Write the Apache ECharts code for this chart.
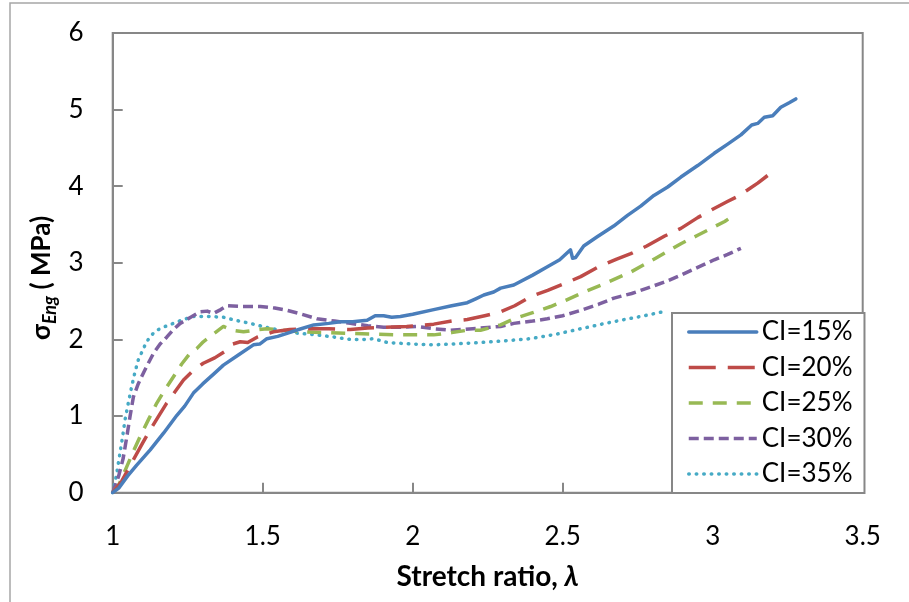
<!DOCTYPE html>
<html>
<head>
<meta charset="utf-8">
<script src="https://cdn.jsdelivr.net/npm/echarts@6/dist/echarts.min.js"></script>
<style>
  html, body { margin: 0; padding: 0; background: #fff; }
  #chart { width: 909px; height: 602px; }
</style>
</head>
<body>
<div id="chart"></div>
<script>
// Engineering stress vs. stretch ratio for five CI levels
const seriesNames = ['CI=15%', 'CI=20%', 'CI=25%', 'CI=30%', 'CI=35%'];
const xTicks = [1, 1.5, 2, 2.5, 3, 3.5];
const yTicks = [0, 1, 2, 3, 4, 5, 6];

const ci15 = [
  [1.0, 0], [1.02, 0.06], [1.05, 0.22], [1.08, 0.36], [1.125, 0.56], [1.17, 0.78],
  [1.214, 1.01], [1.24, 1.13], [1.269, 1.30], [1.30, 1.42], [1.34, 1.56], [1.369, 1.665],
  [1.42, 1.80], [1.469, 1.93], [1.49, 1.94], [1.514, 2.01], [1.55, 2.04], [1.581, 2.08],
  [1.62, 2.13], [1.67, 2.19], [1.72, 2.21], [1.759, 2.23], [1.80, 2.23], [1.848, 2.25],
  [1.875, 2.31], [1.903, 2.31], [1.93, 2.29], [1.959, 2.30], [2.00, 2.33], [2.07, 2.39],
  [2.13, 2.44], [2.182, 2.48], [2.21, 2.53], [2.237, 2.58], [2.27, 2.62], [2.293, 2.67],
  [2.337, 2.71], [2.40, 2.84], [2.449, 2.95], [2.49, 3.04], [2.526, 3.17], [2.533, 3.06],
  [2.543, 3.07], [2.57, 3.22], [2.615, 3.34], [2.67, 3.48], [2.716, 3.62], [2.76, 3.74],
  [2.804, 3.88], [2.85, 3.99], [2.894, 4.12], [2.95, 4.27], [3.005, 4.43], [3.05, 4.55],
  [3.094, 4.67], [3.13, 4.80], [3.15, 4.82], [3.172, 4.90], [3.20, 4.92], [3.227, 5.03],
  [3.255, 5.09], [3.277, 5.14]
];
const ci20 = [
  [1.0, 0], [1.03, 0.15], [1.069, 0.43], [1.10, 0.65], [1.125, 0.82], [1.15, 0.98],
  [1.18, 1.17], [1.21, 1.33], [1.236, 1.47], [1.27, 1.60], [1.302, 1.69], [1.34, 1.76],
  [1.38, 1.86], [1.40, 1.94], [1.425, 1.97], [1.45, 1.96], [1.481, 2.03], [1.536, 2.10],
  [1.59, 2.13], [1.648, 2.14], [1.72, 2.14], [1.792, 2.13], [1.85, 2.15], [1.903, 2.16],
  [1.98, 2.17], [2.07, 2.20], [2.13, 2.24], [2.182, 2.26], [2.24, 2.31], [2.293, 2.36],
  [2.34, 2.44], [2.393, 2.56], [2.45, 2.64], [2.50, 2.72], [2.56, 2.82], [2.62, 2.95],
  [2.68, 3.05], [2.727, 3.12], [2.78, 3.22], [2.84, 3.35], [2.894, 3.45], [2.95, 3.59],
  [3.00, 3.70], [3.049, 3.80], [3.08, 3.86], [3.116, 3.95], [3.15, 4.04], [3.183, 4.14]
];
const ci25 = [
  [1.0, 0], [1.02, 0.10], [1.047, 0.34], [1.07, 0.55], [1.091, 0.73], [1.12, 0.96],
  [1.147, 1.17], [1.175, 1.35], [1.202, 1.51], [1.23, 1.68], [1.258, 1.82], [1.28, 1.88],
  [1.302, 1.97], [1.335, 2.07], [1.369, 2.17], [1.40, 2.12], [1.436, 2.10], [1.47, 2.12],
  [1.514, 2.14], [1.57, 2.12], [1.625, 2.10], [1.70, 2.09], [1.792, 2.08], [1.88, 2.07],
  [1.959, 2.06], [2.07, 2.06], [2.13, 2.09], [2.182, 2.12], [2.226, 2.12], [2.293, 2.19],
  [2.337, 2.27], [2.40, 2.35], [2.46, 2.43], [2.51, 2.51], [2.56, 2.60], [2.64, 2.73],
  [2.727, 2.88], [2.81, 3.06], [2.894, 3.25], [2.95, 3.36], [3.005, 3.47], [3.04, 3.54],
  [3.071, 3.62]
];
const ci30 = [
  [1.0, 0], [1.02, 0.22], [1.035, 0.45], [1.047, 0.73], [1.058, 1.00], [1.069, 1.25],
  [1.085, 1.42], [1.102, 1.56], [1.12, 1.70], [1.136, 1.82], [1.158, 1.94], [1.18, 2.03],
  [1.20, 2.12], [1.225, 2.21], [1.26, 2.29], [1.291, 2.36], [1.315, 2.37], [1.336, 2.34],
  [1.36, 2.39], [1.38, 2.44], [1.43, 2.43], [1.492, 2.43], [1.54, 2.41], [1.581, 2.38],
  [1.63, 2.33], [1.681, 2.27], [1.74, 2.24], [1.792, 2.21], [1.85, 2.18], [1.903, 2.16],
  [1.96, 2.16], [2.015, 2.17], [2.07, 2.14], [2.126, 2.12], [2.20, 2.14], [2.293, 2.17],
  [2.337, 2.21], [2.40, 2.24], [2.449, 2.27], [2.50, 2.31], [2.56, 2.38], [2.62, 2.46],
  [2.671, 2.54], [2.73, 2.60], [2.782, 2.67], [2.84, 2.75], [2.894, 2.84], [2.95, 2.94],
  [3.005, 3.04], [3.05, 3.11], [3.094, 3.19]
];
const ci35 = [
  [1.0, 0], [1.012, 0.22], [1.024, 0.51], [1.033, 0.73], [1.041, 0.95], [1.052, 1.17],
  [1.063, 1.38], [1.074, 1.57], [1.085, 1.73], [1.10, 1.86], [1.113, 1.97], [1.13, 2.06],
  [1.147, 2.12], [1.175, 2.17], [1.202, 2.21], [1.235, 2.26], [1.269, 2.30], [1.32, 2.30],
  [1.369, 2.29], [1.41, 2.25], [1.458, 2.21], [1.51, 2.16], [1.569, 2.11], [1.62, 2.08],
  [1.681, 2.06], [1.74, 2.03], [1.792, 2.00], [1.835, 2.00], [1.87, 2.01], [1.915, 1.96],
  [2.00, 1.94], [2.07, 1.93], [2.13, 1.94], [2.182, 1.95], [2.226, 1.96], [2.30, 1.98],
  [2.393, 2.01], [2.48, 2.07], [2.56, 2.14], [2.63, 2.20], [2.693, 2.25], [2.76, 2.30],
  [2.832, 2.36]
];

const seriesData = [ci15, ci20, ci25, ci30, ci35];
const colors = ['#4a7ebb', '#be4b48', '#98b954', '#7d60a0', '#46aac5'];
const dashes = ['solid', [27, 12], [14, 10], [10, 5], [0.5, 7]];
const caps = ['round', 'butt', 'butt', 'butt', 'round'];

const FONT = 'Lato, "Open Sans", sans-serif';
const GRID = '#878787';

const chart = echarts.init(document.getElementById('chart'), null, { renderer: 'canvas' });

chart.setOption({
  animation: false,
  backgroundColor: '#fff',
  graphic: [
    {
      type: 'rect', silent: true, z: -1,
      shape: { x: 10, y: 3, width: 940, height: 640 },
      style: { fill: 'none', stroke: '#a6a6a6', lineWidth: 1.5 }
    },
    {
      type: 'text', silent: true,
      x: 42, y: 278, rotation: Math.PI / 2,
      style: {
        text: '{s|σ}{sub|Eng}{t| ( MPa)}',
        align: 'center', verticalAlign: 'middle',
        rich: {
          s: { fontFamily: FONT, fontWeight: 'bold', fontSize: 26, lineHeight: 34, fill: '#000' },
          sub: { fontFamily: FONT, fontWeight: 'bold', fontStyle: 'italic', fontSize: 18, lineHeight: 22, verticalAlign: 'bottom', fill: '#000' },
          t: { fontFamily: FONT, fontWeight: 'bold', fontSize: 26, lineHeight: 34, fill: '#000' }
        }
      }
    }
  ],
  grid: {
    left: 112.7, top: 33, right: 46.3, bottom: 109.3,
    show: true, borderColor: GRID, borderWidth: 2, backgroundColor: '#fff'
  },
  legend: {
    orient: 'vertical',
    left: 672, top: 313,
    data: seriesNames,
    itemWidth: 68, itemHeight: 20, itemGap: 9.5,
    padding: [6, 12, 6, 15],
    backgroundColor: '#fff',
    borderColor: GRID, borderWidth: 2,
    itemStyle: { opacity: 0 },
    lineStyle: { width: 3.5 },
    textStyle: { fontFamily: FONT, fontSize: 26, color: '#000', lineHeight: 26 },
    selectedMode: false
  },
  xAxis: {
    type: 'value', min: 1, max: 3.5, interval: 0.5,
    name: '{a|Stretch ratio, }{b|λ}', nameLocation: 'middle', nameGap: 70,
    nameTextStyle: {
      rich: {
        a: { fontFamily: FONT, fontWeight: 'bold', fontSize: 28, color: '#000' },
        b: { fontFamily: FONT, fontWeight: 'bold', fontStyle: 'italic', fontSize: 28, color: '#000' }
      }
    },
    axisLine: { show: true, lineStyle: { color: GRID, width: 2 } },
    axisTick: { show: true, inside: true, length: 10, lineStyle: { color: GRID, width: 2 } },
    axisLabel: {
      margin: 31, fontFamily: FONT, fontSize: 26, color: '#000',
      customValues: xTicks,
      formatter: v => String(v)
    },
    splitLine: { show: false }
  },
  yAxis: {
    type: 'value', min: 0, max: 6, interval: 1,
    axisLine: { show: true, lineStyle: { color: GRID, width: 2 } },
    axisTick: { show: true, inside: true, length: 10, lineStyle: { color: GRID, width: 2 } },
    axisLabel: {
      margin: 29, fontFamily: FONT, fontSize: 26, color: '#000',
      customValues: yTicks,
      formatter: v => String(v)
    },
    splitLine: { show: false }
  },
  series: seriesNames.map((name, i) => ({
    name,
    type: 'line',
    data: seriesData[i],
    symbol: 'none',
    showSymbol: false,
    smooth: false,
    z: 10 - i,
    itemStyle: { color: colors[i] },
    lineStyle: { color: colors[i], width: 3.5, type: dashes[i], cap: caps[i], join: 'round' }
  }))
});
</script>
</body>
</html>
